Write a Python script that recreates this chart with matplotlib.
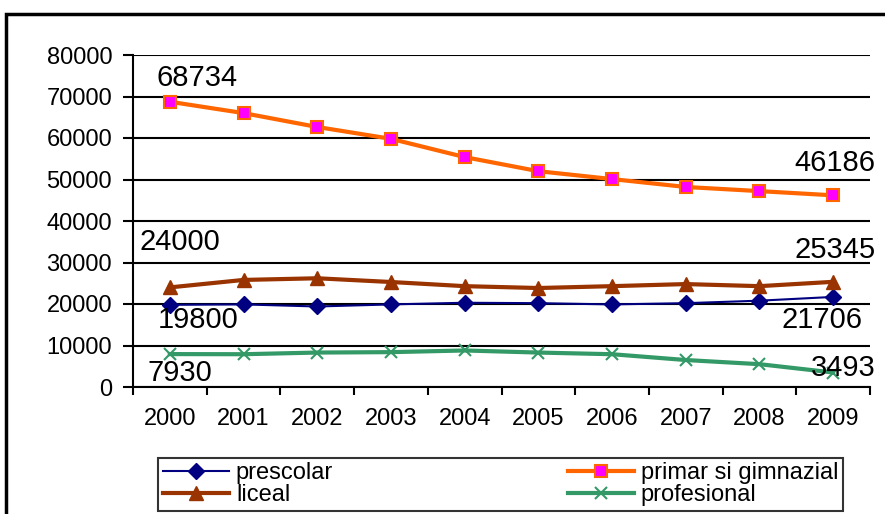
import matplotlib.pyplot as plt
from matplotlib.patches import Rectangle

plt.rcParams['font.family'] = ['Liberation Sans', 'DejaVu Sans']

years = ['2000', '2001', '2002', '2003', '2004', '2005', '2006', '2007', '2008', '2009']
prescolar = [19800, 19900, 19400, 19900, 20300, 20200, 19900, 20200, 20800, 21706]
primar = [68734, 66000, 62650, 59800, 55400, 52000, 50100, 48200, 47200, 46186]
liceal = [24000, 25800, 26200, 25300, 24300, 23850, 24300, 24800, 24300, 25345]
profesional = [7930, 7900, 8300, 8400, 8800, 8300, 7900, 6500, 5500, 3493]

x = list(range(len(years)))

fig = plt.figure(figsize=(8.85, 5.14), dpi=100)
ax = fig.add_axes([133 / 885, 1 - 387 / 514, 737 / 885, 332 / 514])

ax.plot(x, prescolar, color='#000080', lw=1.5, marker='D', ms=8, label='prescolar', zorder=3)
ax.plot(x, primar, color='#FF6600', lw=3, marker='s', ms=9, mfc='#FF00FF', mec='#FF6600',
        mew=1.5, label='primar si gimnazial', zorder=3)
ax.plot(x, liceal, color='#993300', lw=3, marker='^', ms=10, label='liceal', zorder=3)
ax.plot(x, profesional, color='#339966', lw=3, marker='x', ms=8, mew=1.5, label='profesional', zorder=3)

# data labels at first and last year (offsets in pixels from the point)
def label(series, i, dx, dy, ha):
    ax.annotate(str(series[i]), (x[i], series[i]), xytext=(dx, dy), textcoords='offset pixels',
                ha=ha, va='center', fontsize=21, color='black')

label(primar, 0, -13, 24, 'left')
label(primar, -1, 42, 32, 'right')
label(liceal, 0, -30, 45, 'left')
label(liceal, -1, 42, 32, 'right')
label(prescolar, 0, -12, -15, 'left')
label(prescolar, -1, 29, -23, 'right')
label(profesional, 0, -22, -19, 'left')
label(profesional, -1, 42, 5, 'right')

ax.set_xlim(-0.5, len(years) - 0.5)
ax.set_ylim(0, 80000)
ax.set_yticks(range(0, 80001, 10000))
ax.set_xticks(x)
ax.set_xticklabels(years)
ax.set_xticks([i - 0.5 for i in range(len(years) + 1)], minor=True)
ax.tick_params(axis='x', which='major', length=0, labelsize=17, pad=15)
ax.tick_params(axis='x', which='minor', length=6, width=1.5, direction='out')
ax.tick_params(axis='y', length=7, width=1.5, labelsize=17, pad=8)
ax.grid(axis='y', color='black', lw=1.5)
ax.set_axisbelow(True)
for s in ['top', 'right']:
    ax.spines[s].set_visible(False)
for s in ['left', 'bottom']:
    ax.spines[s].set_linewidth(1.5)

h, l = ax.get_legend_handles_labels()
order = [0, 2, 1, 3]
leg = fig.legend([h[i] for i in order], [l[i] for i in order], ncol=2, loc='lower left',
                 bbox_to_anchor=(158 / 885, 3 / 514, 685 / 885, 61 / 514), mode='expand', fontsize=17,
                 frameon=True, fancybox=False, edgecolor='black', borderpad=0.2,
                 labelspacing=0.0, handlelength=2.8, handletextpad=0.3, columnspacing=1.0,
                 borderaxespad=0)
leg.get_frame().set_linewidth(1.5)

# outer chart border
fig.patches.append(Rectangle((6 / 885, -0.1), 1.2, 1.1 - 14 / 514, transform=fig.transFigure,
                             fill=False, edgecolor='black', lw=2.5))

fig.savefig('out.png', dpi=100)
